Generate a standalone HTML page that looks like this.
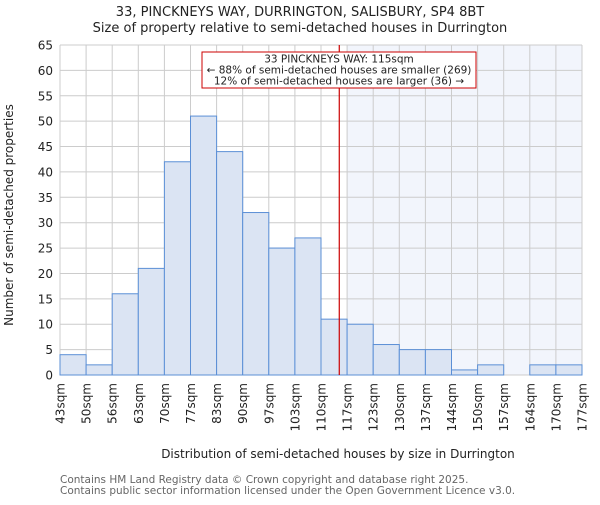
<!DOCTYPE html>
<html><head><meta charset="utf-8"><style>body{margin:0;background:#fff}svg{font-family:"DejaVu Sans","Liberation Sans",sans-serif}</style></head>
<body>
<svg id="c" width="600" height="500" xmlns="http://www.w3.org/2000/svg">
<text x="300" y="16" text-anchor="middle" font-size="13" fill="#222">33, PINCKNEYS WAY, DURRINGTON, SALISBURY, SP4 8BT</text>
<text x="300" y="32" text-anchor="middle" font-size="13" fill="#222">Size of property relative to semi-detached houses in Durrington</text>
<g id="grid"></g><g id="bars"></g><g id="ax"></g>
<text transform="translate(13,215) rotate(-90)" text-anchor="middle" font-size="12" fill="#222">Number of semi-detached properties</text>
<text x="338" y="458" text-anchor="middle" font-size="12" fill="#222">Distribution of semi-detached houses by size in Durrington</text>
<text x="60" y="483" font-size="10.5" fill="#666">Contains HM Land Registry data © Crown copyright and database right 2025.</text>
<text x="60" y="494" font-size="10.5" fill="#666">Contains public sector information licensed under the Open Government Licence v3.0.</text>
</svg>
<script>
const labels=["43sqm","50sqm","56sqm","63sqm","70sqm","77sqm","83sqm","90sqm","97sqm","103sqm","110sqm","117sqm","123sqm","130sqm","137sqm","144sqm","150sqm","157sqm","164sqm","170sqm","177sqm"];
const counts=[4,2,16,21,42,51,44,32,25,27,11,10,6,5,5,1,2,0,2,2];
const yTicks=[0,5,10,15,20,25,30,35,40,45,50,55,60,65];
const markerIndex=10.7;
const highlightFrom=11;
const X0=60,X1=582,Y0=375,Y1=45,N=counts.length;
const bw=(X1-X0)/N;
const xs=i=>X0+i*bw, ys=v=>Y0-(v/65)*(Y0-Y1);
const NS="http://www.w3.org/2000/svg";
function mk(t,a,p){const e=document.createElementNS(NS,t);for(const k in a)e.setAttribute(k,a[k]);p.appendChild(e);return e;}
const g=document.getElementById('grid'),b=document.getElementById('bars'),ax=document.getElementById('ax');
const sh=mk('rect',{x:xs(highlightFrom),y:Y1,width:X1-xs(highlightFrom),height:Y0-Y1,fill:'#f2f5fc'},g);


yTicks.forEach(v=>{mk('line',{x1:X0,x2:X1,y1:ys(v),y2:ys(v),stroke:'#ccc','stroke-width':1},g);
const t=mk('text',{x:X0-7,y:ys(v)+4.5,'text-anchor':'end','font-size':12,fill:'#222'},ax);t.textContent=v;

});
labels.forEach((l,i)=>{mk('line',{x1:xs(i),x2:xs(i),y1:Y1,y2:Y0,stroke:'#ccc','stroke-width':1},g);
const t=mk('text',{transform:`translate(${xs(i)+4.5},${Y0+8}) rotate(-90)`,'text-anchor':'end','font-size':12,fill:'#222'},ax);t.textContent=l;

});
counts.forEach((v,i)=>{if(v<=0)return;const r=mk('rect',{x:xs(i),y:ys(v),width:bw,height:Y0-ys(v),fill:'#dbe4f3',stroke:'#5b8fd6','stroke-width':1},b);

});
const mx=xs(markerIndex);
const ml=mk('line',{x1:mx,x2:mx,y1:Y1,y2:Y0,stroke:'#c00','stroke-width':1.2},ax);


const bx=mk('rect',{x:202,y:52,width:274,height:36,fill:'#fff',stroke:'#c00','stroke-width':1},ax);


["33 PINCKNEYS WAY: 115sqm","← 88% of semi-detached houses are smaller (269)","12% of semi-detached houses are larger (36) →"].forEach((s,i)=>{const t=mk('text',{x:339,y:62.5+i*11,'text-anchor':'middle','font-size':10.5,fill:'#222'},ax);t.textContent=s;

});
</script>
</body></html>
